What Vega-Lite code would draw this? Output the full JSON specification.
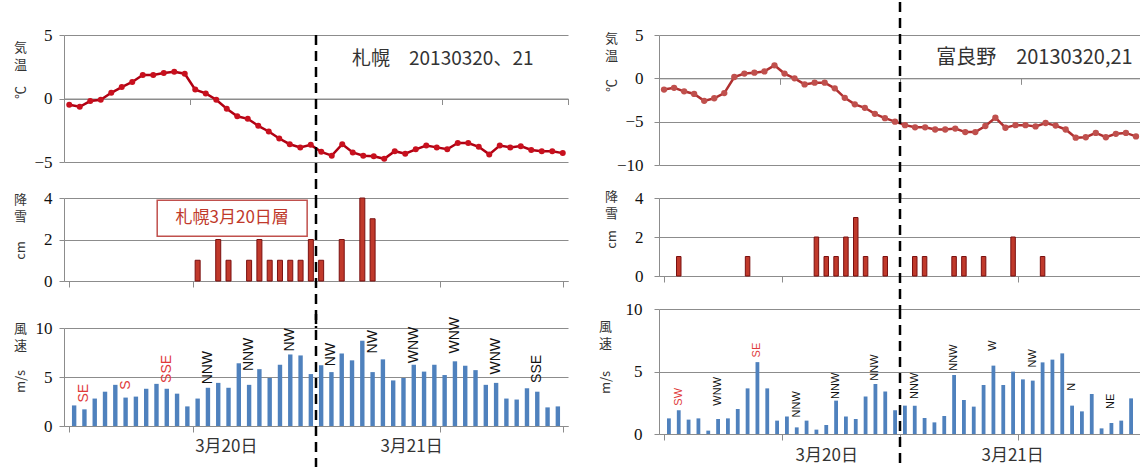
{
  "$schema": "https://vega.github.io/schema/vega-lite/v6.json",
  "padding": {"left": 13, "top": 0, "right": 0, "bottom": 0},
  "background": "white",
  "config": {
    "view": {"stroke": null},
    "axis": {
      "domainColor": "#8c8c8c", "tickColor": "#8c8c8c", "gridColor": "#8c8c8c",
      "labelFont": "Liberation Serif", "labelFontSize": 17, "labelColor": "#111",
      "titleFont": "Noto Sans CJK JP", "titleFontSize": 13, "titleFontWeight": "normal", "titleColor": "#333",
      "labelPadding": 7, "tickSize": 5
    }
  },
  "columns": 2,
  "spacing": {"row": 28, "column": 91},
  "bounds": "flush",
  "align": "each",
  "datasets": {
    "sapporo": [
      {"hour":1,"temp":-0.5,"snow":0,"wind":2.1},{"hour":2,"temp":-0.65,"snow":0,"wind":1.7},{"hour":3,"temp":-0.2,"snow":0,"wind":2.8},{"hour":4,"temp":-0.1,"snow":0,"wind":3.5},
      {"hour":5,"temp":0.45,"snow":0,"wind":4.2},{"hour":6,"temp":0.9,"snow":0,"wind":2.9},{"hour":7,"temp":1.3,"snow":0,"wind":3.0},{"hour":8,"temp":1.85,"snow":0,"wind":3.8},
      {"hour":9,"temp":1.85,"snow":0,"wind":4.3},{"hour":10,"temp":2.0,"snow":0,"wind":3.8},{"hour":11,"temp":2.1,"snow":0,"wind":3.3},{"hour":12,"temp":1.95,"snow":0,"wind":2.0},
      {"hour":13,"temp":0.7,"snow":1,"wind":2.8},{"hour":14,"temp":0.4,"snow":0,"wind":3.9},{"hour":15,"temp":-0.1,"snow":2,"wind":4.4},{"hour":16,"temp":-0.8,"snow":1,"wind":3.9},
      {"hour":17,"temp":-1.4,"snow":0,"wind":6.4},{"hour":18,"temp":-1.6,"snow":1,"wind":4.2},{"hour":19,"temp":-2.15,"snow":2,"wind":5.8},{"hour":20,"temp":-2.6,"snow":1,"wind":4.9},
      {"hour":21,"temp":-3.15,"snow":1,"wind":6.25},{"hour":22,"temp":-3.6,"snow":1,"wind":7.3},{"hour":23,"temp":-3.85,"snow":1,"wind":7.2},{"hour":24,"temp":-3.65,"snow":2,"wind":5.3},
      {"hour":25,"temp":-4.2,"snow":1,"wind":6.2},{"hour":26,"temp":-4.5,"snow":0,"wind":5.5},{"hour":27,"temp":-3.6,"snow":2,"wind":7.4},{"hour":28,"temp":-4.25,"snow":0,"wind":6.7},
      {"hour":29,"temp":-4.5,"snow":4,"wind":8.7},{"hour":30,"temp":-4.55,"snow":3,"wind":5.5},{"hour":31,"temp":-4.75,"snow":0,"wind":6.8},{"hour":32,"temp":-4.15,"snow":0,"wind":4.65},
      {"hour":33,"temp":-4.35,"snow":0,"wind":4.9},{"hour":34,"temp":-4.0,"snow":0,"wind":6.25},{"hour":35,"temp":-3.7,"snow":0,"wind":5.55},{"hour":36,"temp":-3.85,"snow":0,"wind":6.25},
      {"hour":37,"temp":-4.0,"snow":0,"wind":5.2},{"hour":38,"temp":-3.5,"snow":0,"wind":6.6},{"hour":39,"temp":-3.5,"snow":0,"wind":6.15},{"hour":40,"temp":-3.8,"snow":0,"wind":5.7},
      {"hour":41,"temp":-4.4,"snow":0,"wind":4.2},{"hour":42,"temp":-3.7,"snow":0,"wind":4.4},{"hour":43,"temp":-3.85,"snow":0,"wind":2.8},{"hour":44,"temp":-3.75,"snow":0,"wind":2.7},
      {"hour":45,"temp":-4.05,"snow":0,"wind":3.85},{"hour":46,"temp":-4.15,"snow":0,"wind":3.5},{"hour":47,"temp":-4.15,"snow":0,"wind":1.9},{"hour":48,"temp":-4.3,"snow":0,"wind":2.0}
    ],
    "furano": [
      {"hour":1,"temp":-1.3,"snow":0,"wind":1.25},{"hour":2,"temp":-1.1,"snow":1,"wind":1.9},{"hour":3,"temp":-1.5,"snow":0,"wind":1.15},{"hour":4,"temp":-1.8,"snow":0,"wind":1.25},
      {"hour":5,"temp":-2.6,"snow":0,"wind":0.27},{"hour":6,"temp":-2.3,"snow":0,"wind":1.2},{"hour":7,"temp":-1.7,"snow":0,"wind":1.25},{"hour":8,"temp":0.15,"snow":0,"wind":2.0},
      {"hour":9,"temp":0.55,"snow":1,"wind":3.65},{"hour":10,"temp":0.65,"snow":0,"wind":5.75},{"hour":11,"temp":0.8,"snow":0,"wind":3.65},{"hour":12,"temp":1.5,"snow":0,"wind":1.07},
      {"hour":13,"temp":0.55,"snow":0,"wind":1.4},{"hour":14,"temp":0.0,"snow":0,"wind":0.53},{"hour":15,"temp":-0.7,"snow":0,"wind":1.07},{"hour":16,"temp":-0.5,"snow":2,"wind":0.35},
      {"hour":17,"temp":-0.5,"snow":1,"wind":0.72},{"hour":18,"temp":-1.15,"snow":1,"wind":2.67},{"hour":19,"temp":-2.25,"snow":2,"wind":1.4},{"hour":20,"temp":-3.0,"snow":3,"wind":1.2},
      {"hour":21,"temp":-3.4,"snow":1,"wind":3.0},{"hour":22,"temp":-4.1,"snow":0,"wind":4.0},{"hour":23,"temp":-4.6,"snow":1,"wind":3.4},{"hour":24,"temp":-5.0,"snow":0,"wind":1.9},
      {"hour":25,"temp":-5.4,"snow":0,"wind":2.27},{"hour":26,"temp":-5.65,"snow":1,"wind":2.27},{"hour":27,"temp":-5.65,"snow":1,"wind":1.28},{"hour":28,"temp":-5.9,"snow":0,"wind":0.93},
      {"hour":29,"temp":-5.9,"snow":0,"wind":1.44},{"hour":30,"temp":-5.8,"snow":1,"wind":4.72},{"hour":31,"temp":-6.2,"snow":1,"wind":2.72},{"hour":32,"temp":-6.2,"snow":0,"wind":2.19},
      {"hour":33,"temp":-5.5,"snow":1,"wind":3.92},{"hour":34,"temp":-4.55,"snow":0,"wind":5.47},{"hour":35,"temp":-5.7,"snow":0,"wind":3.92},{"hour":36,"temp":-5.4,"snow":2,"wind":4.99},
      {"hour":37,"temp":-5.4,"snow":0,"wind":4.37},{"hour":38,"temp":-5.55,"snow":0,"wind":4.27},{"hour":39,"temp":-5.15,"snow":1,"wind":5.73},{"hour":40,"temp":-5.45,"snow":0,"wind":5.95},
      {"hour":41,"temp":-5.9,"snow":0,"wind":6.45},{"hour":42,"temp":-6.85,"snow":0,"wind":2.27},{"hour":43,"temp":-6.8,"snow":0,"wind":1.81},{"hour":44,"temp":-6.3,"snow":0,"wind":3.2},
      {"hour":45,"temp":-6.8,"snow":0,"wind":0.45},{"hour":46,"temp":-6.4,"snow":0,"wind":0.88},{"hour":47,"temp":-6.3,"snow":0,"wind":1.07},{"hour":48,"temp":-6.7,"snow":0,"wind":2.85}
    ],
    "dirL": [
      {"hour":2,"dir":"SE","at":2.4},{"hour":6,"dir":"S","at":3.7},{"hour":10,"dir":"SSE","at":4.4},{"hour":14,"dir":"NNW","at":4.25},
      {"hour":18,"dir":"NNW","at":5.6},{"hour":22,"dir":"NW","at":7.6},{"hour":26,"dir":"NW","at":6.1},{"hour":30,"dir":"NW","at":7.4},
      {"hour":34,"dir":"WNW","at":6.4},{"hour":38,"dir":"WNW","at":7.4},{"hour":42,"dir":"WNW","at":5.25},{"hour":46,"dir":"SSE","at":4.4}
    ],
    "dirR": [
      {"hour":2,"dir":"SW","at":2.27},{"hour":6,"dir":"WNW","at":2.27},{"hour":10,"dir":"SE","at":6.13},{"hour":14,"dir":"NNW","at":1.33},
      {"hour":18,"dir":"NNW","at":2.8},{"hour":22,"dir":"NNW","at":4.27},{"hour":26,"dir":"NNW","at":2.8},{"hour":30,"dir":"NNW","at":5.07},
      {"hour":34,"dir":"W","at":6.67},{"hour":38,"dir":"NW","at":5.33},{"hour":42,"dir":"N","at":3.47},{"hour":46,"dir":"NE","at":2.0}
    ],
    "one": [{}]
  },
  "concat": [
    {
      "width": 504, "height": 130,
      "resolve": {"axis": {"y": "independent"}},
      "layer": [
        {"data": {"name": "sapporo"},
         "mark": {"type": "line", "color": "#B00012", "strokeWidth": 2.5},
         "encoding": {
           "x": {"field": "hour", "type": "quantitative", "scale": {"domain": [0.5, 48.5], "nice": false, "zero": false},
                 "axis": {"values": [0.5, 12.5, 24.5, 36.5, 48.5], "labels": false, "grid": false, "title": null, "tickSize": 6, "offset": -66.5}},
           "y": {"field": "temp", "type": "quantitative", "scale": {"domain": [-5, 5], "range": [127, 0], "nice": false, "zero": false},
                 "axis": {"values": [-5, 0, 5], "title": "℃", "titleX": -44, "titleY": 57, "titleAlign": "center", "titleBaseline": "middle"}}
         }},
        {"data": {"name": "sapporo"},
         "mark": {"type": "point", "filled": true, "size": 36, "color": "#C8101E", "opacity": 1},
         "encoding": {
           "x": {"field": "hour", "type": "quantitative"},
           "y": {"field": "temp", "type": "quantitative", "axis": null}
         }},
        {"data": {"name": "one"},
         "mark": {"type": "rule", "color": "#000", "strokeWidth": 2.5, "strokeDash": [10, 6]},
         "encoding": {
           "x": {"datum": 24.5},
           "y": {"datum": 5, "axis": {"orient": "left", "labels": false, "ticks": false, "domain": false, "grid": false, "title": ["気", "温"], "titleAngle": 0, "titleAlign": "center", "titleBaseline": "top", "titleX": -44, "titleY": 6, "titleLineHeight": 17}},
           "y2": {"datum": -7.83}
         }},
        {"data": {"name": "one"},
         "mark": {"type": "text", "align": "left", "baseline": "middle", "font": "Noto Sans CJK JP", "fontSize": 19, "color": "#333"},
         "encoding": {
           "x": {"datum": 27.93},
           "y": {"datum": 3.11, "axis": null},
           "text": {"value": "札幌　20130320、21"}
         }}
      ]
    },
    {
      "width": 482, "height": 130,
      "resolve": {"axis": {"y": "independent"}},
      "layer": [
        {"data": {"name": "furano"},
         "mark": {"type": "line", "color": "#B03030", "strokeWidth": 2.5},
         "encoding": {
           "x": {"field": "hour", "type": "quantitative", "scale": {"domain": [0.5, 48.5], "nice": false, "zero": false},
                 "axis": {"values": [0.5, 12.5, 24.5, 36.5], "labels": false, "grid": false, "title": null, "tickSize": 6, "offset": -86.67}},
           "y": {"field": "temp", "type": "quantitative", "scale": {"domain": [-10, 5], "range": [130, 0], "nice": false, "zero": false},
                 "axis": {"values": [-10, -5, 0, 5], "labelPadding": 11, "title": "℃", "titleX": -48, "titleY": 50, "titleAlign": "center", "titleBaseline": "middle"}}
         }},
        {"data": {"name": "furano"},
         "mark": {"type": "point", "filled": true, "size": 40, "color": "#C0504D", "opacity": 1},
         "encoding": {
           "x": {"field": "hour", "type": "quantitative"},
           "y": {"field": "temp", "type": "quantitative", "axis": null}
         }},
        {"data": {"name": "one"},
         "mark": {"type": "rule", "color": "#000", "strokeWidth": 2.5, "strokeDash": [10, 6]},
         "encoding": {
           "x": {"datum": 24.5},
           "y": {"datum": 8.81, "axis": {"orient": "left", "labels": false, "ticks": false, "domain": false, "grid": false, "title": ["気", "温"], "titleAngle": 0, "titleAlign": "center", "titleBaseline": "top", "titleX": -48, "titleY": -3, "titleLineHeight": 17}},
           "y2": {"datum": -13.81}
         }},
        {"data": {"name": "one"},
         "mark": {"type": "text", "align": "left", "baseline": "middle", "font": "Noto Sans CJK JP", "fontSize": 20, "color": "#333"},
         "encoding": {
           "x": {"datum": 28.1},
           "y": {"datum": 2.31, "axis": null},
           "text": {"value": "富良野　20130320,21"}
         }}
      ]
    },
    {
      "width": 504, "height": 88,
      "resolve": {"axis": {"y": "independent"}},
      "layer": [
        {"data": {"name": "sapporo"},
         "transform": [{"filter": "datum.snow > 0"}],
         "mark": {"type": "bar", "width": 5, "color": "#C0392B", "stroke": "#7A1010", "strokeWidth": 1},
         "encoding": {
           "x": {"field": "hour", "type": "quantitative", "scale": {"domain": [0.5, 48.5], "nice": false, "zero": false},
                 "axis": {"values": [0.5, 12.5, 24.5, 36.5, 48.5], "labels": false, "grid": false, "title": null, "tickSize": 6}},
           "y": {"field": "snow", "type": "quantitative", "scale": {"domain": [0, 4], "range": [88, 5], "nice": false},
                 "axis": {"values": [0, 2, 4], "title": "cm", "titleX": -44, "titleY": 57, "titleAlign": "center", "titleBaseline": "middle"}}
         }},
        {"data": {"name": "one"},
         "mark": {"type": "rule", "color": "#000", "strokeWidth": 2.5, "strokeDash": [10, 6]},
         "encoding": {
           "x": {"datum": 24.5},
           "y": {"datum": 4, "axis": {"orient": "left", "labels": false, "ticks": false, "domain": false, "grid": false, "title": ["降", "雪"], "titleAngle": 0, "titleAlign": "center", "titleBaseline": "top", "titleX": -44, "titleY": 0, "titleLineHeight": 17}},
           "y2": {"datum": -2.27}
         }},
        {"data": {"name": "one"},
         "mark": {"type": "rect", "fill": "white", "stroke": "#C0504D", "strokeWidth": 1.5},
         "encoding": {
           "x": {"datum": 9.07}, "x2": {"datum": 23.64},
           "y": {"datum": 3.89, "axis": null}, "y2": {"datum": 2.16}
         }},
        {"data": {"name": "one"},
         "mark": {"type": "text", "align": "center", "baseline": "middle", "font": "Noto Sans CJK JP", "fontSize": 17, "color": "#C0392B"},
         "encoding": {
           "x": {"datum": 16.36},
           "y": {"datum": 3.03, "axis": null},
           "text": {"value": "札幌3月20日層"}
         }}
      ]
    },
    {
      "width": 482, "height": 88,
      "resolve": {"axis": {"y": "independent"}},
      "layer": [
        {"data": {"name": "furano"},
         "transform": [{"filter": "datum.snow > 0"}],
         "mark": {"type": "bar", "width": 4.5, "color": "#C0392B", "stroke": "#7A1010", "strokeWidth": 1},
         "encoding": {
           "x": {"field": "hour", "type": "quantitative", "scale": {"domain": [0.5, 48.5], "nice": false, "zero": false},
                 "axis": {"values": [0.5, 12.5, 24.5, 36.5], "labels": false, "grid": false, "title": null, "tickSize": 6, "offset": -5}},
           "y": {"field": "snow", "type": "quantitative", "scale": {"domain": [0, 4], "range": [83, 5], "nice": false},
                 "axis": {"values": [0, 2, 4], "labelPadding": 11, "title": "cm", "titleX": -48, "titleY": 46, "titleAlign": "center", "titleBaseline": "middle"}}
         }},
        {"data": {"name": "one"},
         "mark": {"type": "rule", "color": "#000", "strokeWidth": 2.5, "strokeDash": [10, 6]},
         "encoding": {
           "x": {"datum": 24.5},
           "y": {"datum": 4.26, "axis": {"orient": "left", "labels": false, "ticks": false, "domain": false, "grid": false, "title": ["降", "雪"], "titleAngle": 0, "titleAlign": "center", "titleBaseline": "top", "titleX": -48, "titleY": -3, "titleLineHeight": 17}},
           "y2": {"datum": -1.69}
         }}
      ]
    },
    {
      "width": 504, "height": 125,
      "resolve": {"axis": {"y": "independent"}},
      "layer": [
        {"data": {"name": "sapporo"},
         "mark": {"type": "bar", "width": 4.4, "color": "#4F81BD"},
         "encoding": {
           "x": {"field": "hour", "type": "quantitative", "scale": {"domain": [0.5, 48.5], "nice": false, "zero": false},
                 "axis": {"values": [0.5, 12.5, 15.74, 24.5, 33.74, 36.5, 48.5],
                          "labelExpr": "datum.value % 12 == 0.5 ? '' : (datum.value < 24 ? '3月20日' : '3月21日')",
                          "labelFont": "Noto Sans CJK JP", "labelFontSize": 17, "labelColor": "#333", "labelPadding": 6,
                          "labelOverlap": false, "labelFlush": false,
                          "tickOpacity": {"condition": {"test": "datum.value % 12 == 0.5", "value": 1}, "value": 0},
                          "grid": false, "title": null, "tickSize": 6, "offset": -8}},
           "y": {"field": "wind", "type": "quantitative", "scale": {"domain": [0, 10], "range": [117, 19], "nice": false},
                 "axis": {"values": [0, 5, 10], "title": "m/s", "titleX": -44, "titleY": 72, "titleAlign": "center", "titleBaseline": "middle"}}
         }},
        {"data": {"name": "dirL"},
         "mark": {"type": "text", "angle": 270, "align": "left", "baseline": "middle", "font": "Liberation Sans", "fontSize": 14},
         "encoding": {
           "x": {"field": "hour", "type": "quantitative"},
           "y": {"field": "at", "type": "quantitative", "axis": null},
           "text": {"field": "dir"},
           "color": {"condition": {"test": "datum.hour < 12 && indexof(datum.dir, 'S') >= 0", "value": "#E03A3A"}, "value": "#111"}
         }},
        {"data": {"name": "one"},
         "mark": {"type": "rule", "color": "#000", "strokeWidth": 2.5, "strokeDash": [10, 6]},
         "encoding": {
           "x": {"datum": 24.5},
           "y": {"datum": 11.43, "axis": {"orient": "left", "labels": false, "ticks": false, "domain": false, "grid": false, "title": ["風", "速"], "titleAngle": 0, "titleAlign": "center", "titleBaseline": "top", "titleX": -44, "titleY": 13, "titleLineHeight": 17}},
           "y2": {"datum": -4.18}
         }}
      ]
    },
    {
      "width": 482, "height": 125,
      "resolve": {"axis": {"y": "independent"}},
      "layer": [
        {"data": {"name": "furano"},
         "mark": {"type": "bar", "width": 3.8, "color": "#4F81BD"},
         "encoding": {
           "x": {"field": "hour", "type": "quantitative", "scale": {"domain": [0.5, 48.5], "nice": false, "zero": false},
                 "axis": {"values": [0.5, 12.5, 17.0, 24.5, 35.9, 36.5],
                          "labelExpr": "datum.value % 12 == 0.5 ? '' : (datum.value < 24 ? '3月20日' : '3月21日')",
                          "labelFont": "Noto Sans CJK JP", "labelFontSize": 17, "labelColor": "#333", "labelPadding": 7,
                          "labelOverlap": false, "labelFlush": false,
                          "tickOpacity": {"condition": {"test": "datum.value % 12 == 0.5", "value": 1}, "value": 0},
                          "grid": false, "title": null, "tickSize": 6}},
           "y": {"field": "wind", "type": "quantitative", "scale": {"domain": [0, 10], "range": [125, 0], "nice": false},
                 "axis": {"values": [0, 5, 10], "labelPadding": 12, "title": "m/s", "titleX": -54, "titleY": 73, "titleAlign": "center", "titleBaseline": "middle"}}
         }},
        {"data": {"name": "dirR"},
         "mark": {"type": "text", "angle": 270, "align": "left", "baseline": "middle", "font": "Liberation Sans", "fontSize": 11},
         "encoding": {
           "x": {"field": "hour", "type": "quantitative"},
           "y": {"field": "at", "type": "quantitative", "axis": null},
           "text": {"field": "dir"},
           "color": {"condition": {"test": "datum.hour < 12 && indexof(datum.dir, 'S') >= 0", "value": "#E03A3A"}, "value": "#111"}
         }},
        {"data": {"name": "one"},
         "mark": {"type": "rule", "color": "#000", "strokeWidth": 2.5, "strokeDash": [10, 6]},
         "encoding": {
           "x": {"datum": 24.5},
           "y": {"datum": 10, "axis": {"orient": "left", "labels": false, "ticks": false, "domain": false, "grid": false, "title": ["風", "速"], "titleAngle": 0, "titleAlign": "center", "titleBaseline": "top", "titleX": -54, "titleY": 11, "titleLineHeight": 17}},
           "y2": {"datum": -2.8}
         }}
      ]
    }
  ]
}
